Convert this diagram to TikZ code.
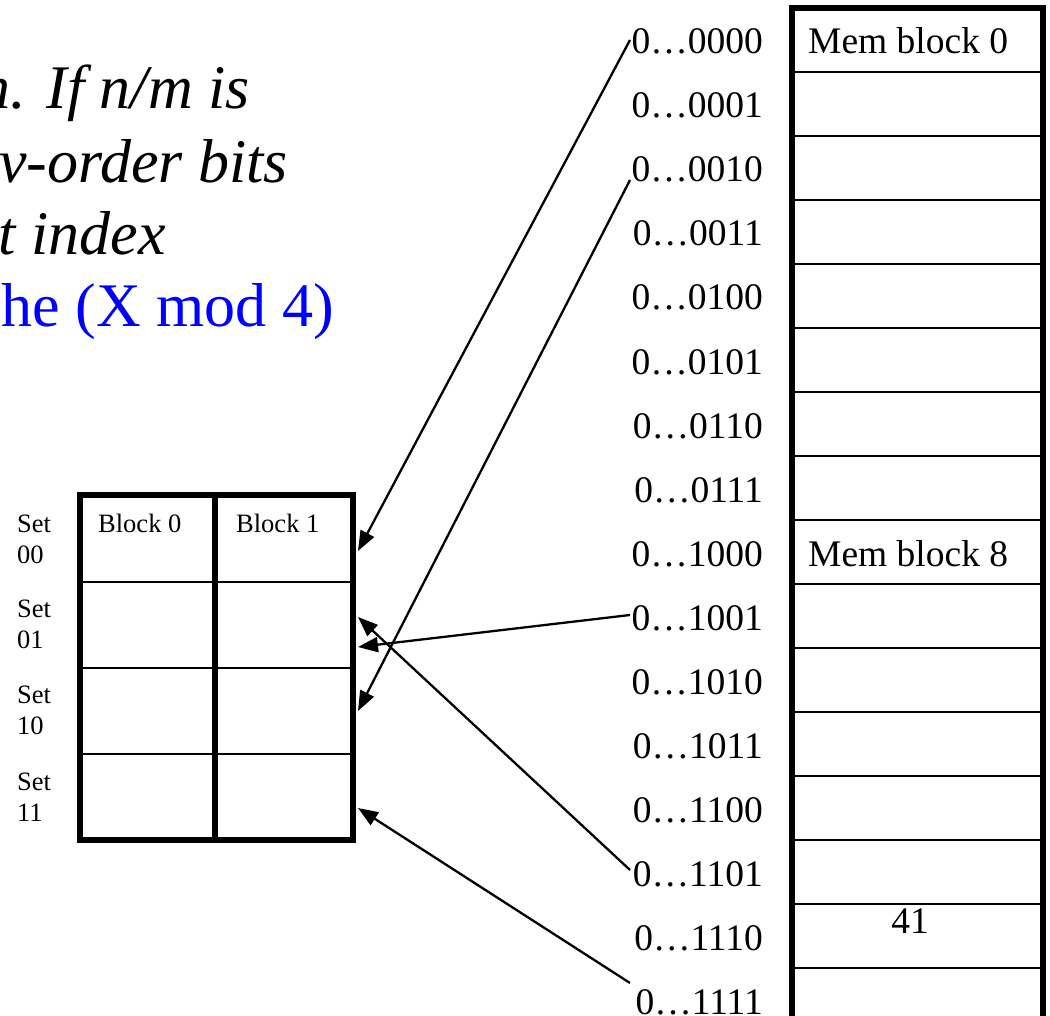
\documentclass[tikz,border=0pt]{standalone}
\usepackage{fontspec}
\setmainfont{Liberation Serif}
\usetikzlibrary{arrows.meta}

\tikzset{
  heading/.style={anchor=base east, inner sep=0pt, font=\fontsize{62}{74}\selectfont\itshape},
  addr/.style={anchor=base east, inner sep=0pt, font=\fontsize{37.5}{42}\selectfont},
  memtext/.style={anchor=base west, inner sep=0pt, font=\fontsize{37.5}{42}\selectfont},
  small/.style={anchor=base west, inner sep=0pt, font=\fontsize{26.5}{31}\selectfont},
  frame/.style={line width=5.5pt},
  rule/.style={line width=2.5pt},
  link/.style={line width=2.3pt, -{Triangle[length=20pt,width=15pt]}},
}

\begin{document}
\begin{tikzpicture}[x=1pt,y=-1pt]
\useasboundingbox (0,0) rectangle (1050,1016);
\fill[white] (0,0) rectangle (1050,1016);

% explanatory text running off the left edge
\node[heading] (line1) at (250,109) {n. If n/m is};
\node[heading] (line2) at (288,183) {v-order bits};
\node[heading] (line3) at (166,255) {t index};
\node[heading, font=\fontsize{62}{74}\selectfont\upshape, text=blue] (line4) at (334,327) {he (X mod 4)};

% main memory column: 16 blocks, frame continues below the page
\foreach \i in {1,...,15}
  \draw[rule] (792,{8+64*\i}) -- (1043,{8+64*\i});
\draw[frame] (792,1040) -- (792,8) -- (1043,8) -- (1043,1040);

\node[memtext] (mb0) at (808,54) {Mem block 0};
\node[memtext] (mb8) at (808,566) {Mem block 8};
\node[anchor=base, inner sep=0pt, font=\fontsize{37.5}{42}\selectfont] (v41) at (910,933) {41};

% block addresses
\foreach \b [count=\i from 0] in {0000,0001,0010,0011,0100,0101,0110,0111,1000,1001,1010,1011,1100,1101,1110,1111}
  \node[addr] (a\b) at (763,{54+64*\i}) {0…\b};

% two-way set associative cache
\draw[rule] (80,582) -- (353,582);
\draw[rule] (80,668) -- (353,668);
\draw[rule] (80,754) -- (353,754);
\draw[frame] (215,495) -- (215,840);
\draw[frame] (80,495) rectangle (353,840);

\node[small] (blk0) at (98,532) {Block 0};
\node[small] (blk1) at (236,532) {Block 1};

\node[small] (set00) at (17,532) {\begin{tabular}[t]{@{}l@{}}Set\\00\end{tabular}};
\node[small] (set01) at (17,617) {\begin{tabular}[t]{@{}l@{}}Set\\01\end{tabular}};
\node[small] (set10) at (17,703) {\begin{tabular}[t]{@{}l@{}}Set\\10\end{tabular}};
\node[small] (set11) at (17,790) {\begin{tabular}[t]{@{}l@{}}Set\\11\end{tabular}};

% arrow ends at the cache's right edge
\coordinate (in00) at (358,551);
\coordinate (in01a) at (358,617);
\coordinate (in01b) at (358,647);
\coordinate (in10) at (358,711);
\coordinate (in11) at (358,808);

% arrow starts beside the addresses
\coordinate (out0000) at (630,40);
\coordinate (out0010) at (630,180);
\coordinate (out1001) at (630,615);
\coordinate (out1101) at (630,870);
\coordinate (out1111) at (630,983);

\draw[link] (out0000) -- (in00);
\draw[link] (out0010) -- (in10);
\draw[link] (out1001) -- (in01b);
\draw[link] (out1101) -- (in01a);
\draw[link] (out1111) -- (in11);
\end{tikzpicture}
\end{document}
